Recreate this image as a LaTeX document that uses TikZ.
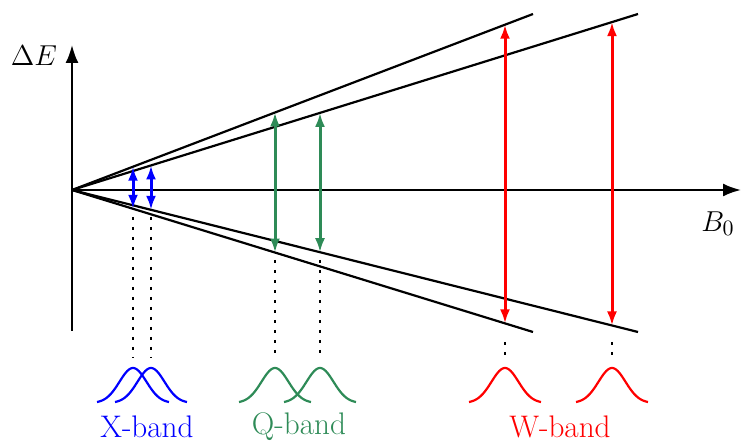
\documentclass[tikz,border=0pt]{standalone}
\usetikzlibrary{arrows.meta}
\definecolor{qgreen}{RGB}{46,139,87}
\begin{document}
\begin{tikzpicture}[x=0.5pt,y={(0pt,-0.5pt)},
  axis/.style={line width=1.1pt,-{Latex[length=9pt,width=6.5pt]}},
  level/.style={line width=1.1pt},
  trans/.style={line width=1.5pt,{Latex[length=7pt,width=5pt]}-{Latex[length=7pt,width=5pt]}},
  guide/.style={line width=1.3pt,dash pattern=on 1.3pt off 3.7pt},
  gauss/.style={line width=1.1pt},
  lbl/.style={font=\fontsize{15.6}{18}\selectfont,inner sep=0pt}]
\useasboundingbox (0,0) rectangle (741,443);
% axes
\coordinate (O) at (72,190);
\coordinate (ybot) at (72,331);
\coordinate (ytop) at (72,45);
\coordinate (xend) at (741,190);
\draw[axis] (ybot) -- (ytop);
\draw[axis] (O) -- (xend);
\node[lbl] (dE) at (34,56) {$\Delta E$};
\node[lbl] (B0) at (718,224) {$B_0$};
% level lines
\coordinate (A) at (533,14);
\coordinate (B) at (638,14);
\coordinate (C) at (533,332);
\coordinate (D) at (638,332);
\draw[level] (O) -- (A);
\draw[level] (O) -- (B);
\draw[level] (O) -- (C);
\draw[level] (O) -- (D);
% transition end points (on the level lines)
\foreach \n/\xx in {x1/133, q1/275, w1/505}{
  \coordinate (\n t) at (\xx,{190-(176/461)*(\xx-72)});
  \coordinate (\n b) at (\xx,{190+(142/461)*(\xx-72)});
}
\foreach \n/\xx in {x2/151, q2/320, w2/612}{
  \coordinate (\n t) at (\xx,{190-(176/566)*(\xx-72)});
  \coordinate (\n b) at (\xx,{190+(142/566)*(\xx-72)});
}
% transitions
\draw[trans,blue] (x1b) -- (x1t);
\draw[trans,blue] (x2b) -- (x2t);
\draw[trans,qgreen] (q1b) -- (q1t);
\draw[trans,qgreen] (q2b) -- (q2t);
\draw[trans,red] (w1b) -- (w1t);
\draw[trans,red] (w2b) -- (w2t);
% guides
\foreach \n/\xx/\ys in {x1/133/217, x2/151/217, q1/275/260, q2/320/260, w1/505/342, w2/612/342}{
  \coordinate (\n s) at (\xx,\ys);
  \coordinate (\n e) at (\xx,358);
  \draw[guide] (\n s) -- (\n e);
}
% spectra
\foreach \c/\col in {133/blue, 151/blue, 275/qgreen, 320/qgreen, 505/red, 612/red}{
  \draw[gauss,\col] plot[domain=-36:36,samples=60,smooth] ({\c+\x},{403-35*exp(-(\x)^2/(2*13.5^2))});
}
\node[lbl,text=blue] (Xl) at (147,427) {X-band};
\node[lbl,text=qgreen] (Ql) at (299,427) {Q-band};
\node[lbl,text=red] (Wl) at (560,427) {W-band};
\end{tikzpicture}
\end{document}
